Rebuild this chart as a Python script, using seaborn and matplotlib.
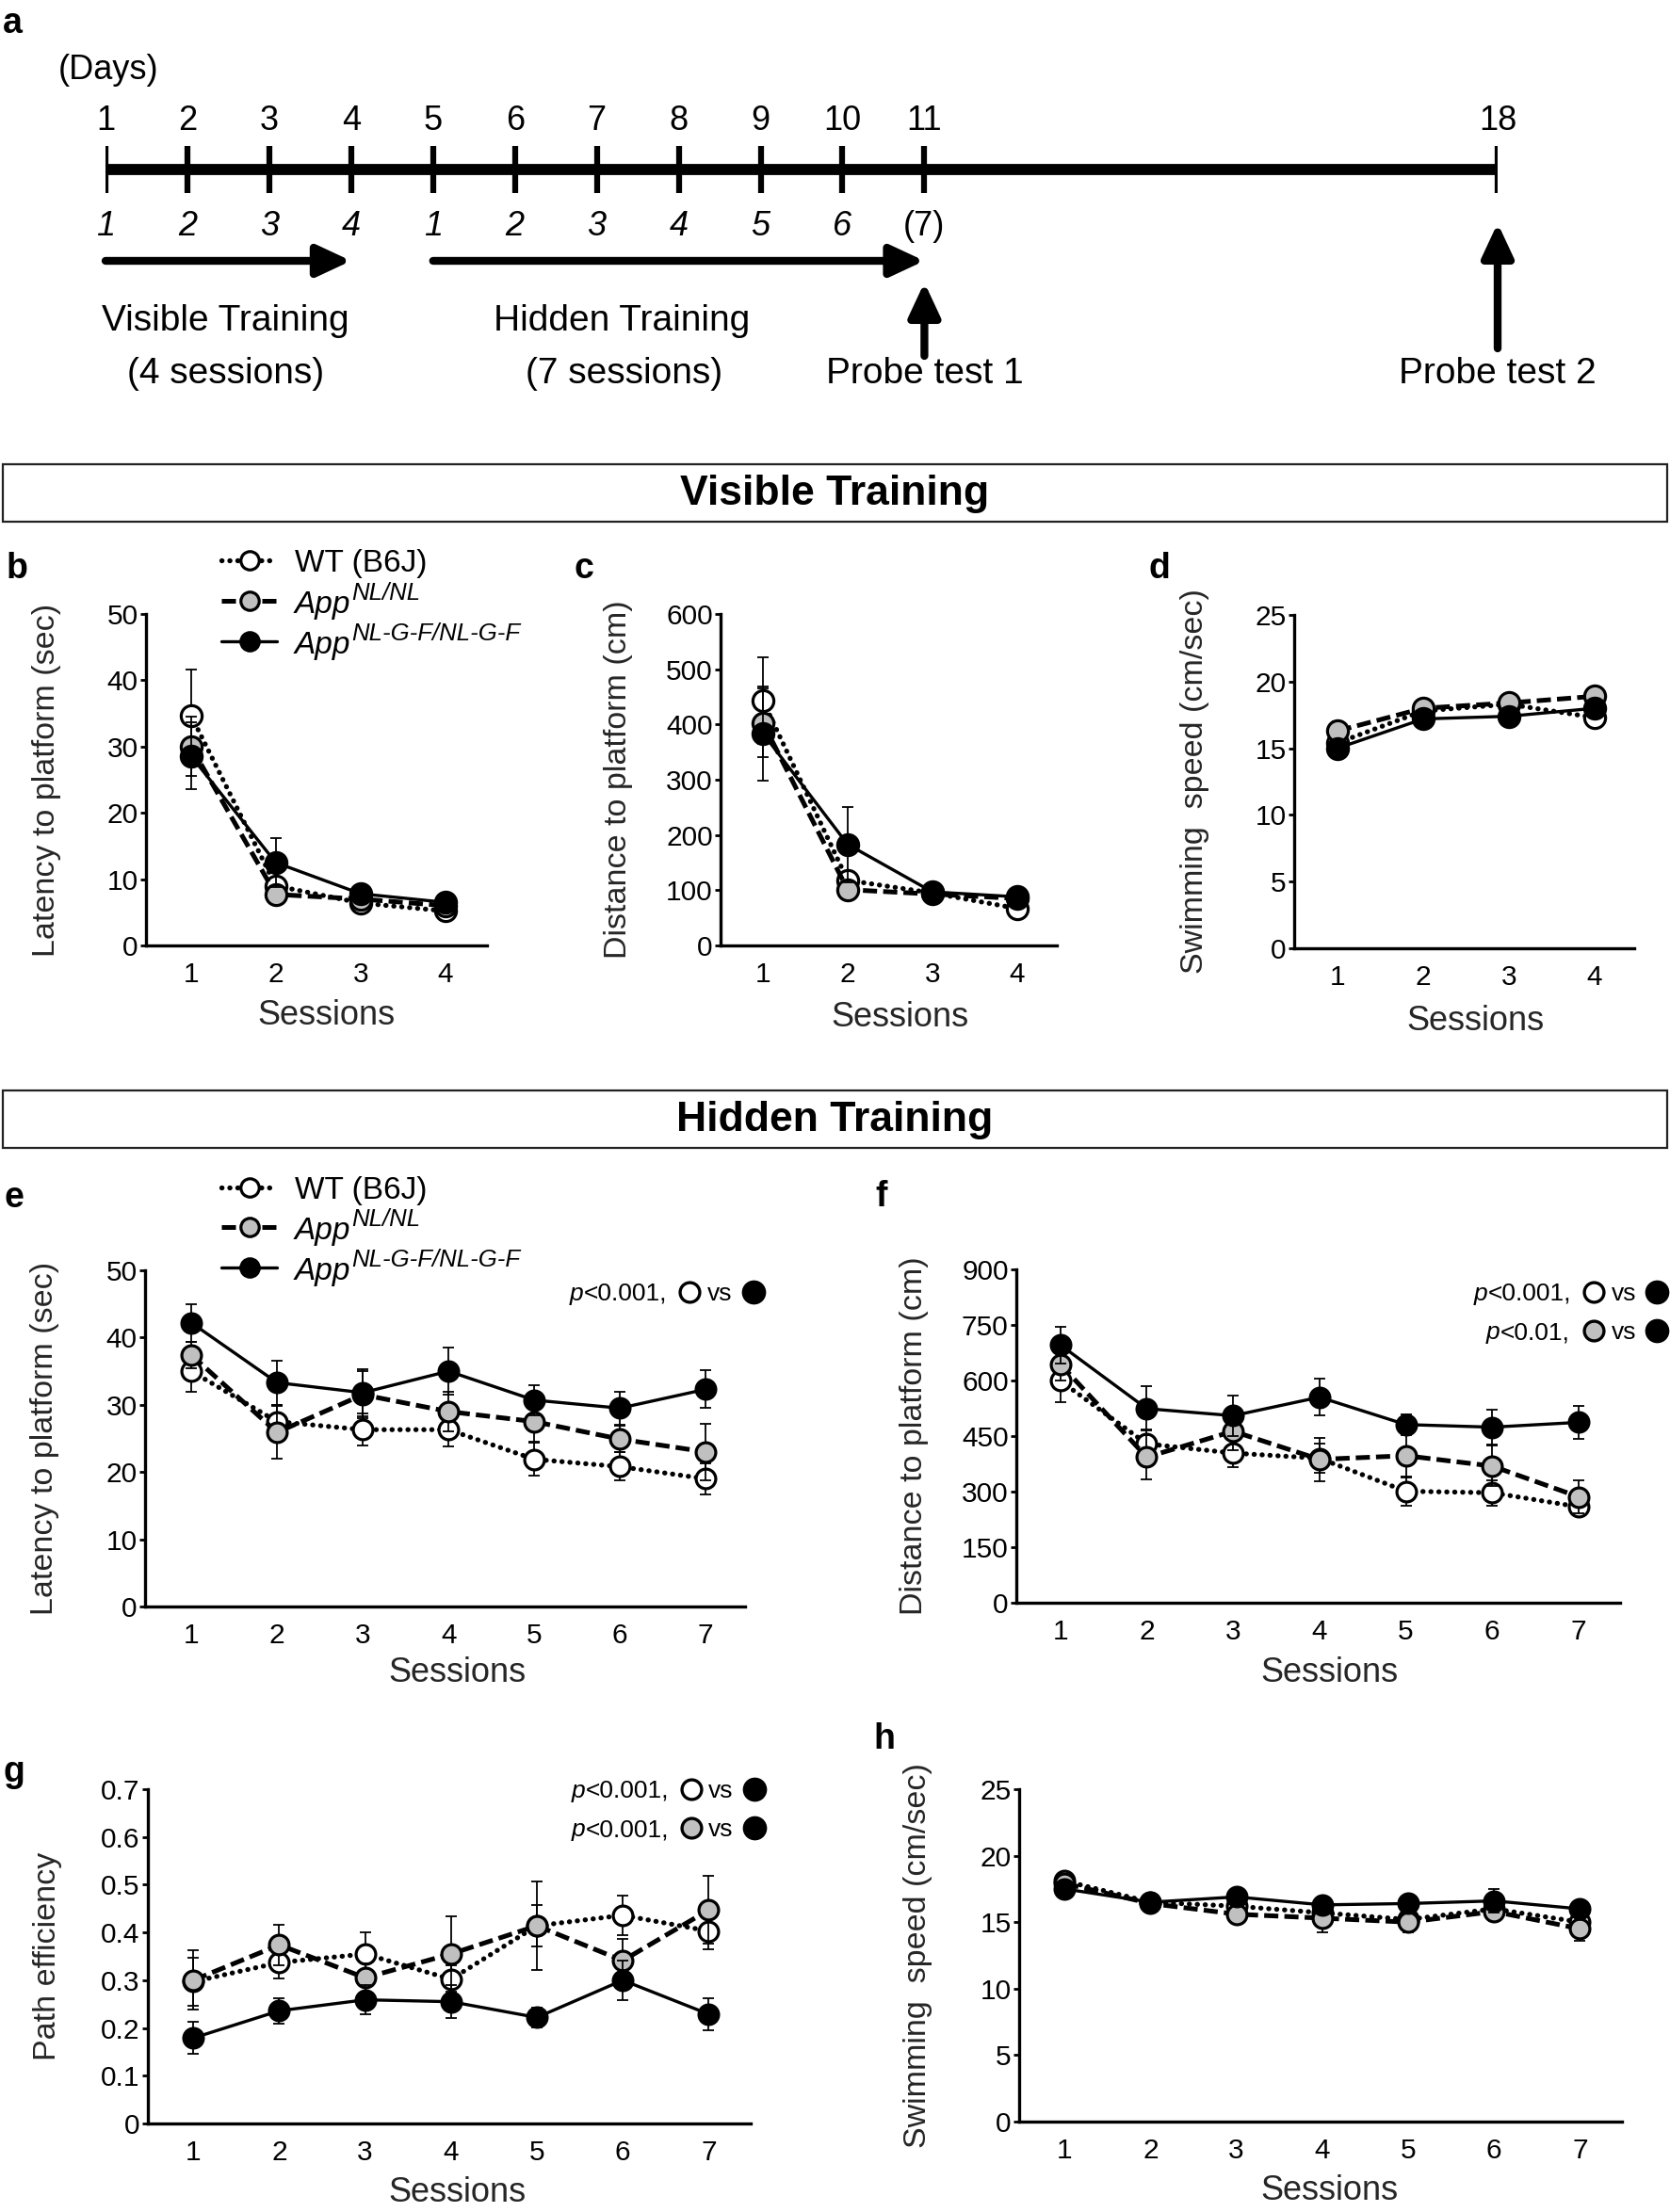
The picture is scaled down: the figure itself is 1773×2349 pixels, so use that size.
import matplotlib
matplotlib.use("Agg")
import matplotlib.pyplot as plt
import seaborn as sns
import pandas as pd
import numpy as np
from matplotlib.lines import Line2D
from matplotlib.patches import Rectangle
from matplotlib.ticker import FuncFormatter

# ---------------- data ----------------
days = [1, 2, 3, 4, 5, 6, 7, 8, 9, 10, 11, 18]
session_days = [1, 2, 3, 4, 5, 6, 7, 8, 9, 10, 11]
session_labels = ['1', '2', '3', '4', '1', '2', '3', '4', '5', '6', '(7)']

vis_sessions = [1, 2, 3, 4]
hid_sessions = [1, 2, 3, 4, 5, 6, 7]

# b: visible latency (sec)
lat_vis_wt = [34.7, 9.0, 6.4, 5.2]
lat_vis_wt_sem = [6.9, 1.2, 0.7, 0.6]
lat_vis_nl = [30.0, 7.7, 7.0, 6.0]
lat_vis_nl_sem = [4.5, 1.0, 0.7, 0.6]
lat_vis_nlgf = [28.6, 12.5, 7.8, 6.5]
lat_vis_nlgf_sem = [5.0, 3.7, 0.8, 0.6]

# c: visible distance (cm)
dist_vis_wt = [443, 118, 95, 67]
dist_vis_wt_sem = [78, 15, 8, 8]
dist_vis_nl = [403, 101, 93, 85]
dist_vis_nl_sem = [62, 10, 8, 8]
dist_vis_nlgf = [384, 183, 97, 88]
dist_vis_nlgf_sem = [85, 68, 8, 8]

# d: visible swimming speed (cm/sec)
spd_vis_wt = [15.4, 17.8, 18.3, 17.3]
spd_vis_wt_sem = [0.5, 0.4, 0.4, 0.5]
spd_vis_nl = [16.3, 18.0, 18.4, 18.9]
spd_vis_nl_sem = [0.7, 0.4, 0.4, 0.6]
spd_vis_nlgf = [15.0, 17.2, 17.4, 18.0]
spd_vis_nlgf_sem = [0.4, 0.5, 0.6, 0.5]

# e: hidden latency (sec)
lat_hid_wt = [35.0, 27.5, 26.3, 26.3, 21.9, 20.8, 19.0]
lat_hid_wt_sem = [3.0, 2.5, 2.4, 2.5, 2.5, 2.1, 2.3]
lat_hid_nl = [37.4, 25.9, 31.5, 29.0, 27.5, 24.9, 23.0]
lat_hid_nl_sem = [2.0, 3.9, 3.5, 3.0, 3.0, 2.0, 4.2]
lat_hid_nlgf = [42.2, 33.3, 31.8, 35.0, 30.7, 29.5, 32.3]
lat_hid_nlgf_sem = [2.8, 3.3, 3.5, 3.5, 2.2, 2.5, 2.8]

# f: hidden distance (cm)
dist_hid_wt = [599, 429, 404, 390, 301, 297, 259]
dist_hid_wt_sem = [57, 40, 38, 40, 38, 34, 20]
dist_hid_nl = [644, 393, 463, 387, 397, 369, 286]
dist_hid_nl_sem = [45, 59, 50, 58, 56, 55, 44]
dist_hid_nlgf = [696, 524, 505, 555, 481, 474, 487]
dist_hid_nlgf_sem = [50, 60, 55, 50, 27, 46, 44]

# g: path efficiency
eff_hid_wt = [0.297, 0.337, 0.355, 0.302, 0.414, 0.436, 0.403]
eff_hid_wt_sem = [0.050, 0.034, 0.045, 0.030, 0.043, 0.041, 0.038]
eff_hid_nl = [0.300, 0.374, 0.305, 0.355, 0.414, 0.341, 0.447]
eff_hid_nl_sem = [0.062, 0.043, 0.030, 0.079, 0.093, 0.046, 0.071]
eff_hid_nlgf = [0.179, 0.236, 0.259, 0.255, 0.222, 0.300, 0.229]
eff_hid_nlgf_sem = [0.034, 0.026, 0.030, 0.035, 0.020, 0.042, 0.034]

# h: hidden swimming speed (cm/sec)
spd_hid_wt = [18.1, 16.5, 16.2, 15.7, 15.2, 16.0, 15.0]
spd_hid_wt_sem = [0.6, 0.6, 0.6, 0.6, 0.7, 0.6, 0.6]
spd_hid_nl = [17.9, 16.4, 15.6, 15.3, 15.0, 15.8, 14.5]
spd_hid_nl_sem = [0.6, 0.6, 0.6, 1.1, 0.8, 0.7, 0.9]
spd_hid_nlgf = [17.5, 16.5, 16.9, 16.3, 16.4, 16.6, 16.0]
spd_hid_nlgf_sem = [0.6, 0.6, 0.5, 0.6, 0.6, 0.9, 0.6]

# ---------------- style ----------------
sns.set_style("ticks")
plt.rcParams['font.family'] = ['Liberation Sans', 'DejaVu Sans']
plt.rcParams['text.color'] = 'black'

W, H = 1773, 2349
fig = plt.figure(figsize=(W / 100, H / 100), dpi=100)
renderer = fig.canvas.get_renderer()

GRAY = '#c0c0c0'
STY = {
    'WT': dict(ls=(0, (0.05, 1.55)), lw=3.8, mfc='white', z=3, cap='round'),
    'NL': dict(ls=(0, (3.0, 1.3)), lw=3.6, mfc=GRAY, z=4, cap='butt'),
    'NLGF': dict(ls='-', lw=2.4, mfc='black', z=5, cap='butt'),
}


def fxy(x, y):
    return x / W, 1 - y / H


def ftext(x, y, s, **kw):
    return fig.text(x / W, 1 - y / H, s, **kw)


def add_ax(x0, x1, ytop, ybot):
    return fig.add_axes([x0 / W, 1 - ybot / H, (x1 - x0) / W, (ybot - ytop) / H])


def draw_panel(ax, x, series, ms):
    for key, mean, sem in series:
        st = STY[key]
        ax.errorbar(x, mean, yerr=sem, fmt='none', ecolor='black', elinewidth=1.3,
                    capsize=4.5, capthick=1.3, zorder=st['z'])
        df = pd.DataFrame({'Session': x, 'Value': mean})
        sns.lineplot(data=df, x='Session', y='Value', ax=ax, color='black',
                     linestyle=st['ls'], linewidth=st['lw'], dash_capstyle=st['cap'],
                     marker='o', markersize=ms, markerfacecolor=st['mfc'],
                     markeredgecolor='black', markeredgewidth=2.3,
                     errorbar=None, legend=False, zorder=st['z'] + 0.5)


def style_ax(ax, p):
    x0, x1, yt, yb = p['box']
    ax.set_xlim(*p['xlim'])
    ax.set_ylim(*p['ylim'])
    ax.set_xticks(p['x'])
    ax.set_yticks(p['yticks'])
    ax.yaxis.set_major_formatter(FuncFormatter(lambda v, _: f'{v:g}'))
    for s in ['top', 'right']:
        ax.spines[s].set_visible(False)
    for s in ['left', 'bottom']:
        ax.spines[s].set_linewidth(2.4)
        ax.spines[s].set_color('black')
    ax.tick_params(axis='x', length=0, pad=12.5, labelsize=21.5, colors='black')
    ax.tick_params(axis='y', length=4, width=2, pad=2, labelsize=21.5, colors='black')
    ax.set_xlabel('Sessions', fontsize=26, va='center')
    lx, ly = p['xlab']
    ax.xaxis.set_label_coords((lx - x0) / (x1 - x0), (yb - ly - 4) / (yb - yt))
    ax.set_ylabel(p['ylabel'], fontsize=24.5, va='center')
    ax.yaxis.set_label_coords((p['ylab_x'] - x0) / (x1 - x0), 0.5)
    ax.set_facecolor('none')


panels = [
    dict(box=(155, 517, 652, 1004), xlim=(0.47, 4.49), x=vis_sessions, ylim=(0, 50),
         yticks=np.arange(0, 51, 10), ylabel='Latency to platform (sec)', ylab_x=50,
         xlab=(346, 1075), ms=16,
         series=[('WT', lat_vis_wt, lat_vis_wt_sem), ('NL', lat_vis_nl, lat_vis_nl_sem),
                 ('NLGF', lat_vis_nlgf, lat_vis_nlgf_sem)]),
    dict(box=(765, 1122, 652, 1004), xlim=(0.5, 4.47), x=vis_sessions, ylim=(0, 600),
         yticks=np.arange(0, 601, 100), ylabel='Distance to platform (cm)', ylab_x=657,
         xlab=(955, 1077), ms=16,
         series=[('WT', dist_vis_wt, dist_vis_wt_sem), ('NL', dist_vis_nl, dist_vis_nl_sem),
                 ('NLGF', dist_vis_nlgf, dist_vis_nlgf_sem)]),
    dict(box=(1374, 1735, 653, 1007), xlim=(0.495, 4.46), x=vis_sessions, ylim=(0, 25),
         yticks=np.arange(0, 26, 5), ylabel='Swimming  speed (cm/sec)', ylab_x=1268,
         xlab=(1566, 1080), ms=16,
         series=[('WT', spd_vis_wt, spd_vis_wt_sem), ('NL', spd_vis_nl, spd_vis_nl_sem),
                 ('NLGF', spd_vis_nlgf, spd_vis_nlgf_sem)]),
    dict(box=(154, 791, 1349, 1706), xlim=(0.46, 7.46), x=hid_sessions, ylim=(0, 50),
         yticks=np.arange(0, 51, 10), ylabel='Latency to platform (sec)', ylab_x=48,
         xlab=(485, 1773), ms=15,
         series=[('WT', lat_hid_wt, lat_hid_wt_sem), ('NL', lat_hid_nl, lat_hid_nl_sem),
                 ('NLGF', lat_hid_nlgf, lat_hid_nlgf_sem)]),
    dict(box=(1079, 1720, 1348, 1702), xlim=(0.49, 7.48), x=hid_sessions, ylim=(0, 900),
         yticks=np.arange(0, 901, 150), ylabel='Distance to platform (cm)', ylab_x=971,
         xlab=(1411, 1773), ms=15,
         series=[('WT', dist_hid_wt, dist_hid_wt_sem), ('NL', dist_hid_nl, dist_hid_nl_sem),
                 ('NLGF', dist_hid_nlgf, dist_hid_nlgf_sem)]),
    dict(box=(157, 797, 1900, 2255), xlim=(0.47, 7.49), x=hid_sessions, ylim=(0, 0.7),
         yticks=np.round(np.arange(0, 0.71, 0.1), 1), ylabel='Path efficiency', ylab_x=50,
         xlab=(485, 2324), ms=15,
         series=[('WT', eff_hid_wt, eff_hid_wt_sem), ('NL', eff_hid_nl, eff_hid_nl_sem),
                 ('NLGF', eff_hid_nlgf, eff_hid_nlgf_sem)]),
    dict(box=(1082, 1722, 1900, 2253), xlim=(0.47, 7.49), x=hid_sessions, ylim=(0, 25),
         yticks=np.arange(0, 26, 5), ylabel='Swimming  speed (cm/sec)', ylab_x=974,
         xlab=(1411, 2323), ms=15,
         series=[('WT', spd_hid_wt, spd_hid_wt_sem), ('NL', spd_hid_nl, spd_hid_nl_sem),
                 ('NLGF', spd_hid_nlgf, spd_hid_nlgf_sem)]),
]

for p in panels:
    ax = add_ax(*p['box'])
    draw_panel(ax, p['x'], p['series'], p['ms'])
    style_ax(ax, p)

# ---------------- timeline (panel a) ----------------
axa = fig.add_axes([112 / W, 1 - 460 / H, (1590 - 112) / W, 460 / H])
axa.set_xlim(1, 18)
axa.set_ylim(460, 0)
axa.axis('off')
axa.plot([days[0], days[-1]], [180, 180], color='black', lw=8.5, solid_capstyle='butt')
axa.vlines(days, 155, 205, color='black', lw=4.5)
for d in days:
    axa.text(d, 129, str(d), ha='center', va='center', fontsize=26)
for d, lab in zip(session_days, session_labels):
    axa.text(d, 241, lab, ha='center', va='center', fontsize=26,
             style='normal' if lab.startswith('(') else 'italic')
axa.text(1.03, 75, '(Days)', ha='center', va='center', fontsize=26)
aprops = dict(arrowstyle='-|>,head_length=0.9,head_width=0.42', lw=6, color='black',
              shrinkA=0, shrinkB=0, mutation_scale=24)
axa.annotate('', xy=(4, 277), xytext=(1, 277), arrowprops=aprops, annotation_clip=False)
axa.annotate('', xy=(11, 277), xytext=(5, 277), arrowprops=aprops, annotation_clip=False)
axa.annotate('', xy=(11, 300), xytext=(11, 378), arrowprops=aprops, annotation_clip=False)
axa.annotate('', xy=(18, 237), xytext=(18, 370), arrowprops=aprops, annotation_clip=False)
axa.text(2.47, 341, 'Visible Training', ha='center', va='center', fontsize=28)
axa.text(2.47, 397, '(4 sessions)', ha='center', va='center', fontsize=28)
axa.text(7.3, 341, 'Hidden Training', ha='center', va='center', fontsize=28)
axa.text(7.33, 397, '(7 sessions)', ha='center', va='center', fontsize=28)
axa.text(11, 397, 'Probe test 1', ha='center', va='center', fontsize=28)
axa.text(18, 397, 'Probe test 2', ha='center', va='center', fontsize=28)

# ---------------- section boxes ----------------
for (yt, yb, title) in [(493, 554, 'Visible Training'), (1158, 1219, 'Hidden Training')]:
    fig.add_artist(Rectangle(fxy(3, yb), 1767 / W, (yb - yt) / H, transform=fig.transFigure,
                             fill=False, lw=1.6, ec='#222222'))
    ftext(886, (yt + yb) / 2 + 1, title, ha='center', va='center', fontsize=32, weight='bold')

# ---------------- panel letters ----------------
for (lx, ly, s) in [(13, 25, 'a'), (18, 604, 'b'), (620, 604, 'c'), (1231, 604, 'd'),
                    (15, 1272, 'e'), (936, 1271, 'f'), (15, 1882, 'g'), (939, 1847, 'h')]:
    ftext(lx, ly, s, ha='center', va='center', fontsize=27, weight='bold')


# ---------------- legends ----------------
def legend_row(key, y, ms=14):
    st = STY[key]
    fig.add_artist(Line2D([235 / W, 294 / W], [1 - y / H] * 2, transform=fig.transFigure,
                          color='black', ls=st['ls'], lw=st['lw'], dash_capstyle=st['cap']))
    fig.add_artist(Line2D([265 / W], [1 - y / H], transform=fig.transFigure, ls='none',
                          marker='o', ms=ms, mfc=st['mfc'], mec='black', mew=2.3))


def app_label(x, y, sup):
    base = y + 13
    t = ftext(x, base, 'App', style='italic', fontsize=24, va='baseline', ha='left')
    w = t.get_window_extent(renderer).width
    ftext(x + w + 1, base - 14, sup, style='italic', fontsize=18.5, va='baseline', ha='left')


for rows in [(595, 638, 681), (1261, 1303, 1346)]:
    legend_row('WT', rows[0])
    legend_row('NL', rows[1])
    legend_row('NLGF', rows[2])
    ftext(313, rows[0] + 12, 'WT (B6J)', fontsize=24, va='baseline', ha='left')
    app_label(313, rows[1], 'NL/NL')
    app_label(313, rows[2], 'NL-G-F/NL-G-F')


# ---------------- p-value annotations ----------------
def pline(x_start, y, ptxt, first_key, circ1_x, vs_x, circ2_x):
    base = y + 9
    t = ftext(x_start, base, 'p', style='italic', fontsize=19, va='baseline', ha='left')
    w = t.get_window_extent(renderer).width
    ftext(x_start + w, base, ptxt, fontsize=19, va='baseline', ha='left')
    ftext(vs_x, base, 'vs', fontsize=19, va='baseline', ha='left')
    fig.add_artist(Line2D([circ1_x / W], [1 - y / H], transform=fig.transFigure, ls='none',
                          marker='o', ms=15, mfc=STY[first_key]['mfc'], mec='black', mew=2.4))
    fig.add_artist(Line2D([circ2_x / W], [1 - y / H], transform=fig.transFigure, ls='none',
                          marker='o', ms=17.5, mfc='black', mec='black', mew=1))


pline(605, 1372, '<0.001,', 'WT', 732, 751, 800)
pline(1565, 1372, '<0.001,', 'WT', 1692, 1711, 1759)
pline(1578, 1413, '<0.01,', 'NL', 1692, 1711, 1759)
pline(607, 1900, '<0.001,', 'WT', 734, 752, 801)
pline(607, 1941, '<0.001,', 'NL', 734, 752, 801)

fig.savefig('out.png', dpi=100)
